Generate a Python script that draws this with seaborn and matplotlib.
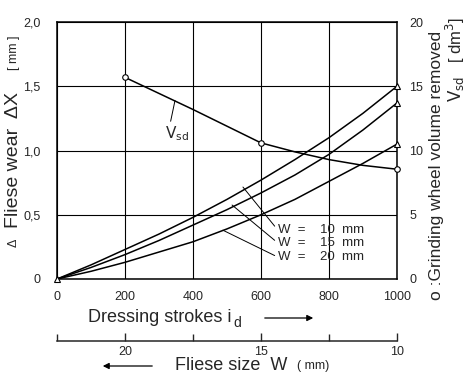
import matplotlib
matplotlib.use("Agg")
import matplotlib.pyplot as plt
import seaborn as sns

# data
strokes = [0, 100, 200, 300, 400, 500, 600, 700, 800, 900, 1000]
wear_w10 = [0, 0.11, 0.23, 0.35, 0.48, 0.62, 0.77, 0.93, 1.10, 1.29, 1.50]
wear_w15 = [0, 0.09, 0.19, 0.30, 0.42, 0.54, 0.67, 0.81, 0.97, 1.16, 1.37]
wear_w20 = [0, 0.06, 0.13, 0.21, 0.29, 0.39, 0.50, 0.62, 0.76, 0.90, 1.05]
vsd_strokes = [200, 300, 400, 500, 600, 700, 800, 900, 1000]
vsd = [15.7, 14.45, 13.2, 11.9, 10.6, 9.9, 9.3, 8.85, 8.55]
vsd_marked = [0, 4, 8]

x_ticks = [0, 200, 400, 600, 800, 1000]
y_ticks = [0, 0.5, 1.0, 1.5, 2.0]
y_labels = ['0', '0,5', '1,0', '1,5', '2,0']
v_ticks = [0, 5, 10, 15, 20]
w_ticks = [20, 15, 10]

sns.set_style("white")
plt.rcParams['font.family'] = ['Liberation Sans', 'DejaVu Sans']

fig = plt.figure(figsize=(4.68, 3.76), dpi=100)
ax = fig.add_axes([0.122, 0.258, 0.726, 0.683])

for wear in (wear_w10, wear_w15, wear_w20):
    sns.lineplot(x=strokes, y=wear, ax=ax, color='black', linewidth=1.1)

# measured wear points (triangles)
ends = [wear_w10[-1], wear_w15[-1], wear_w20[-1]]
ax.plot([1000] * 3, ends, linestyle='none', marker='^', markersize=5,
        markerfacecolor='white', markeredgecolor='black', markeredgewidth=0.8,
        clip_on=False, zorder=5)
ax.plot([0], [0], linestyle='none', marker='^', markersize=5,
        markerfacecolor='white', markeredgecolor='black', markeredgewidth=0.8,
        clip_on=False, zorder=5)

ax.set_xlim(0, 1000)
ax.set_ylim(0, 2.0)
ax.set_xticks(x_ticks)
ax.set_yticks(y_ticks)
ax.set_yticklabels(y_labels)
ax.tick_params(axis='both', length=0, labelsize=9)
ax.tick_params(axis='y', pad=12)
ax.tick_params(axis='x', pad=9)
ax.grid(True, color='black', linewidth=0.8)
ax.set_xlabel('')
ax.set_ylabel('')
for s in ax.spines.values():
    s.set_color('black')
    s.set_linewidth(1.1)

# Vsd on the right axis
ax2 = ax.twinx()
sns.lineplot(x=vsd_strokes, y=vsd, ax=ax2, color='black', linewidth=1.1)
ax2.plot([vsd_strokes[i] for i in vsd_marked], [vsd[i] for i in vsd_marked],
         linestyle='none', marker='o', markersize=4, markerfacecolor='white',
         markeredgecolor='black', markeredgewidth=0.8, clip_on=False, zorder=5)
ax2.set_ylim(0, 20)
ax2.set_yticks(v_ticks)
ax2.tick_params(axis='y', length=0, labelsize=9, pad=9)
ax2.set_ylabel('')
ax2.grid(False)
for s in ax2.spines.values():
    s.set_visible(False)

# annotations
ax.annotate(r'$\mathrm{V}_{\mathrm{sd}}$', xy=(347, 1.39), xytext=(318, 1.13),
            fontsize=11, ha='left', va='center',
            arrowprops=dict(arrowstyle='-', color='black', linewidth=0.7,
                            shrinkA=0, shrinkB=0, relpos=(0.2, 1.0)))
w_texts = ['W  =    10  mm', 'W  =    15  mm', 'W  =    20  mm']
w_text_y = [0.38, 0.28, 0.17]
w_point = [(547, 0.716), (515, 0.576), (488, 0.38)]
for t, ty, pt in zip(w_texts, w_text_y, w_point):
    ax.annotate(t, xy=pt, xytext=(650, ty), fontsize=9.5, ha='left', va='center',
                arrowprops=dict(arrowstyle='-', color='black', linewidth=0.7,
                                shrinkA=0, shrinkB=0, relpos=(0.0, 0.5)))

# second x axis: fliese size
sec = ax.secondary_xaxis(-0.24, functions=(lambda x: 22.5 - x / 80.0,
                                           lambda w: (22.5 - w) * 80.0))
sec.set_xticks(w_ticks)
sec.set_xticks([22.5, 17.5, 12.5], minor=True)
sec.tick_params(axis='x', which='major', direction='in', length=6, width=1,
                labelsize=9, pad=4)
sec.tick_params(axis='x', which='minor', direction='in', length=5, width=1)
sec.spines['bottom'].set_linewidth(1.1)

# axis titles
fig.text(88 / 468, 1 - 317 / 376, 'Dressing strokes i', fontsize=13,
         ha='left', va='center')
fig.text(233 / 468, 1 - 323 / 376, 'd', fontsize=10, ha='left', va='center')
fig.add_artist(matplotlib.patches.FancyArrowPatch(
    (262 / 468, 1 - 318 / 376), (316 / 468, 1 - 318 / 376),
    transform=fig.transFigure, arrowstyle='-|>', mutation_scale=9,
    color='black', linewidth=0.9))

fig.text(175 / 468, 1 - 366 / 376, 'Fliese size  W', fontsize=13,
         ha='left', va='center')
fig.text(297 / 468, 1 - 366 / 376, '( mm)', fontsize=9, ha='left', va='center')
fig.add_artist(matplotlib.patches.FancyArrowPatch(
    (155 / 468, 1 - 366 / 376), (100 / 468, 1 - 366 / 376),
    transform=fig.transFigure, arrowstyle='-|>', mutation_scale=9,
    color='black', linewidth=0.9))

fig.text(14 / 468, 1 - 243 / 376, 'Δ', fontsize=9, rotation=90,
         ha='center', va='center')
fig.text(14 / 468, 1 - 228 / 376, 'Fliese wear  ΔX', fontsize=14, rotation=90,
         ha='center', va='bottom')
fig.text(14 / 468, 1 - 70 / 376, '[ mm ]', fontsize=9, rotation=90,
         ha='center', va='bottom')

fig.text(437 / 468, 1 - 300 / 376, 'o :Grinding wheel volume removed',
         fontsize=12.5, rotation=90, ha='center', va='bottom')
fig.text(455 / 468, 1 - 102 / 376, r'$\mathrm{V}_{\mathrm{sd}}$   [ dm$^3$]',
         fontsize=12, rotation=90, ha='center', va='bottom')

fig.savefig('out.png', dpi=100)
